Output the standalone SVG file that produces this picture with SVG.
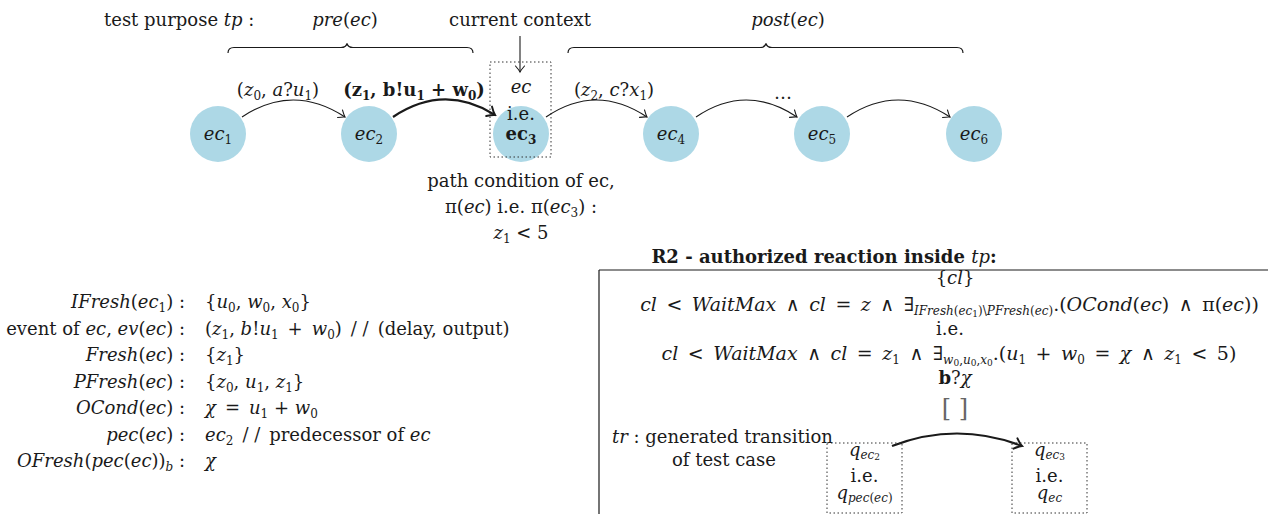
<svg xmlns="http://www.w3.org/2000/svg" width="1268" height="514" viewBox="0 0 1268 514">
<style>
text{font-family:"DejaVu Serif","Liberation Serif",serif;font-size:18px;fill:#1a1a1a}
.i{font-style:italic}
.b{font-weight:bold}
.n{font-weight:normal}
.sb{font-size:12px}
.ss{font-size:9px}
.mid{text-anchor:middle}
.end{text-anchor:end}
.big{font-size:19px}
.node{fill:#ADD8E6}
.edge{fill:none;stroke:#1a1a1a;stroke-width:1.1}
.thick{stroke-width:2.2}
.dot{fill:none;stroke:#333;stroke-width:1;stroke-dasharray:1.5 2.5}
.line{fill:none;stroke:#1a1a1a;stroke-width:1.2}
</style>
<defs>
<marker id="ah" viewBox="-8 -6 10 12" markerWidth="10" markerHeight="12" refX="0" refY="0" orient="auto" markerUnits="userSpaceOnUse">
<path d="M-6,-4.5 Q-2,-1 0,0 Q-2,1 -6,4.5" fill="none" stroke="#1a1a1a" stroke-width="1.1" stroke-linecap="round"/>
</marker>
<marker id="ahb" viewBox="-10 -7 12 14" markerWidth="12" markerHeight="14" refX="0" refY="0" orient="auto" markerUnits="userSpaceOnUse">
<path d="M-7,-5.5 Q-2.5,-1.2 0,0 Q-2.5,1.2 -7,5.5" fill="none" stroke="#1a1a1a" stroke-width="2" stroke-linecap="round"/>
</marker>
</defs>

<g id="header">
<text x="104" y="26">test purpose <tspan class="i">tp</tspan> :</text>
<text x="345" y="26" class="mid"><tspan class="i">pre</tspan>(<tspan class="i">ec</tspan>)</text>
<text x="520" y="26" class="mid">current context</text>
<text x="788" y="26" class="mid"><tspan class="i">post</tspan>(<tspan class="i">ec</tspan>)</text>
<path class="line" d="M228,53 Q228,47.5 234,47.5 H341 Q346,47.5 347,43.5 Q348,47.5 353,47.5 H467 Q473,47.5 473,53" stroke-width="1"/>
<path class="line" d="M568,53 Q568,47.5 574,47.5 H760 Q765,47.5 766,43.5 Q767,47.5 772,47.5 H957 Q963,47.5 963,53" stroke-width="1"/>
</g>

<g id="ec1"><circle class="node" cx="218" cy="134" r="28"/><text x="218" y="140" class="mid"><tspan class="i">ec</tspan><tspan class="sb" dy="4">1</tspan></text></g>
<g id="ec2"><circle class="node" cx="369" cy="134" r="28"/><text x="369" y="140" class="mid"><tspan class="i">ec</tspan><tspan class="sb" dy="4">2</tspan></text></g>
<g id="ec3">
<circle class="node" cx="521" cy="134" r="28"/>
<rect class="dot" x="490" y="62" width="61" height="95"/>
<text x="521" y="93" class="mid i">ec</text>
<text x="521" y="120" class="mid">i.e.</text>
<text x="521" y="140" class="mid b">ec<tspan class="sb" dy="4">3</tspan></text>
</g>
<g id="ec4"><circle class="node" cx="671" cy="134" r="28"/><text x="671" y="140" class="mid"><tspan class="i">ec</tspan><tspan class="sb" dy="4">4</tspan></text></g>
<g id="ec5"><circle class="node" cx="822" cy="134" r="28"/><text x="822" y="140" class="mid"><tspan class="i">ec</tspan><tspan class="sb" dy="4">5</tspan></text></g>
<g id="ec6"><circle class="node" cx="974" cy="134" r="28"/><text x="974" y="140" class="mid"><tspan class="i">ec</tspan><tspan class="sb" dy="4">6</tspan></text></g>

<g id="connectors">
<path class="edge" d="M520,36 V72" marker-end="url(#ah)"/>
<path class="edge" d="M242,117 Q293,83 345,117" marker-end="url(#ah)"/>
<path class="edge thick" d="M393,117 Q444,83 495,115" marker-end="url(#ahb)"/>
<path class="edge" d="M546,117 Q596,83 647,117" marker-end="url(#ah)"/>
<path class="edge" d="M696,117 Q746,83 797,117" marker-end="url(#ah)"/>
<path class="edge" d="M847,117 Q898,83 950,117" marker-end="url(#ah)"/>
<path class="edge thick" d="M892,446 Q957,421 1022,446" marker-end="url(#ahb)"/>
</g>

<g id="edge-labels">
<text x="278" y="96" class="mid">(<tspan class="i">z</tspan><tspan class="sb" dy="4">0</tspan><tspan dy="-4">, </tspan><tspan class="i">a</tspan>?<tspan class="i">u</tspan><tspan class="sb" dy="4">1</tspan><tspan dy="-4">)</tspan></text>
<text x="414" y="96" class="mid b">(z<tspan class="sb" dy="4">1</tspan><tspan dy="-4">, b!u</tspan><tspan class="sb" dy="4">1</tspan><tspan dy="-4"> + w</tspan><tspan class="sb" dy="4">0</tspan><tspan dy="-4">)</tspan></text>
<text x="614" y="96" class="mid">(<tspan class="i">z</tspan><tspan class="sb" dy="4">2</tspan><tspan dy="-4">, </tspan><tspan class="i">c</tspan>?<tspan class="i">x</tspan><tspan class="sb" dy="4">1</tspan><tspan dy="-4">)</tspan></text>
<text x="783" y="99" class="mid">…</text>
</g>

<g id="path-condition">
<text x="521" y="187" class="mid">path condition of ec,</text>
<text x="521" y="213" class="mid">π(<tspan class="i">ec</tspan>) i.e. π(<tspan class="i">ec</tspan><tspan class="sb" dy="4">3</tspan><tspan dy="-4">) :</tspan></text>
<text x="521" y="239" class="mid"><tspan class="i">z</tspan><tspan class="sb" dy="4">1</tspan><tspan dy="-4"> &lt; 5</tspan></text>
</g>

<g id="table">
<text x="185" y="308" class="end"><tspan class="i">IFresh</tspan>(<tspan class="i">ec</tspan><tspan class="sb" dy="4">1</tspan><tspan dy="-4">) :</tspan></text>
<text x="205" y="308">{<tspan class="i">u</tspan><tspan class="sb" dy="4">0</tspan><tspan dy="-4">, </tspan><tspan class="i">w</tspan><tspan class="sb" dy="4">0</tspan><tspan dy="-4">, </tspan><tspan class="i">x</tspan><tspan class="sb" dy="4">0</tspan><tspan dy="-4">}</tspan></text>

<text x="185" y="334.5" class="end">event of <tspan class="i">ec</tspan>, <tspan class="i">ev</tspan>(<tspan class="i">ec</tspan>) :</text>
<text x="205" y="334.5">(<tspan class="i">z</tspan><tspan class="sb" dy="4">1</tspan><tspan dy="-4">, </tspan><tspan class="i">b</tspan>!<tspan class="i">u</tspan><tspan class="sb" dy="4">1</tspan><tspan dy="-4">&#8194;+&#8194;</tspan><tspan class="i">w</tspan><tspan class="sb" dy="4">0</tspan><tspan dy="-4">)&#8194;/ /&#8194;(delay, output)</tspan></text>

<text x="185" y="361" class="end"><tspan class="i">Fresh</tspan>(<tspan class="i">ec</tspan>) :</text>
<text x="205" y="361">{<tspan class="i">z</tspan><tspan class="sb" dy="4">1</tspan><tspan dy="-4">}</tspan></text>

<text x="185" y="387.5" class="end"><tspan class="i">PFresh</tspan>(<tspan class="i">ec</tspan>) :</text>
<text x="205" y="387.5">{<tspan class="i">z</tspan><tspan class="sb" dy="4">0</tspan><tspan dy="-4">, </tspan><tspan class="i">u</tspan><tspan class="sb" dy="4">1</tspan><tspan dy="-4">, </tspan><tspan class="i">z</tspan><tspan class="sb" dy="4">1</tspan><tspan dy="-4">}</tspan></text>

<text x="185" y="414" class="end"><tspan class="i">OCond</tspan>(<tspan class="i">ec</tspan>) :</text>
<text x="205" y="414"><tspan class="i">χ</tspan>&#8194;=&#8194;<tspan class="i">u</tspan><tspan class="sb" dy="4">1</tspan><tspan dy="-4"> + </tspan><tspan class="i">w</tspan><tspan class="sb" dy="4">0</tspan></text>

<text x="185" y="440.5" class="end"><tspan class="i">pec</tspan>(<tspan class="i">ec</tspan>) :</text>
<text x="205" y="440.5"><tspan class="i">ec</tspan><tspan class="sb" dy="4">2</tspan><tspan dy="-4">&#8194;/ /&#8194;predecessor of </tspan><tspan class="i">ec</tspan></text>

<text x="185" y="467" class="end"><tspan class="i">OFresh</tspan>(<tspan class="i">pec</tspan>(<tspan class="i">ec</tspan>))<tspan class="sb i" dy="4">b</tspan><tspan dy="-4"> :</tspan></text>
<text x="205" y="467" class="i">χ</text>
</g>

<g id="r2-box">
<path class="line" d="M599,270 H1268 M599,270 V514"/>
<text x="824" y="263" class="mid b">R2 - authorized reaction inside <tspan class="i n">tp</tspan>:</text>
<text x="955" y="284" class="mid">{<tspan class="i">cl</tspan>}</text>
<text x="949.5" y="311" class="mid big"><tspan class="i">cl</tspan>&#8194;&lt;&#8194;<tspan class="i">WaitMax</tspan>&#8194;∧&#8194;<tspan class="i">cl</tspan>&#8194;=&#8194;<tspan class="i">z</tspan>&#8194;∧&#8194;∃<tspan class="sb i" dy="4">IFresh</tspan><tspan class="sb">(</tspan><tspan class="sb i">ec</tspan><tspan class="ss" dy="2">1</tspan><tspan class="sb" dy="-2">)\</tspan><tspan class="sb i">PFresh</tspan><tspan class="sb">(</tspan><tspan class="sb i">ec</tspan><tspan class="sb">)</tspan><tspan dy="-4">.(</tspan><tspan class="i">OCond</tspan>(<tspan class="i">ec</tspan>)&#8194;∧&#8194;π(<tspan class="i">ec</tspan>))</text>
<text x="950" y="335" class="mid">i.e.</text>
<text x="949" y="360" class="mid big"><tspan class="i">cl</tspan>&#8194;&lt;&#8194;<tspan class="i">WaitMax</tspan>&#8194;∧&#8194;<tspan class="i">cl</tspan>&#8194;=&#8194;<tspan class="i">z</tspan><tspan class="sb" dy="4">1</tspan><tspan dy="-4">&#8194;∧&#8194;∃</tspan><tspan class="sb i" dy="4">w</tspan><tspan class="ss" dy="2">0</tspan><tspan class="sb" dy="-2">,</tspan><tspan class="sb i">u</tspan><tspan class="ss" dy="2">0</tspan><tspan class="sb" dy="-2">,</tspan><tspan class="sb i">x</tspan><tspan class="ss" dy="2">0</tspan><tspan dy="-6">.(</tspan><tspan class="i">u</tspan><tspan class="sb" dy="4">1</tspan><tspan dy="-4">&#8194;+&#8194;</tspan><tspan class="i">w</tspan><tspan class="sb" dy="4">0</tspan><tspan dy="-4">&#8194;=&#8194;</tspan><tspan class="i">χ</tspan>&#8194;∧&#8194;<tspan class="i">z</tspan><tspan class="sb" dy="4">1</tspan><tspan dy="-4">&#8194;&lt;&#8194;5)</tspan></text>
<text x="955" y="384" class="mid"><tspan class="b">b</tspan>?<tspan class="i">χ</tspan></text>
<text x="955" y="416" class="mid" style="font-size:24px;fill:#666">[ ]</text>
<text x="612" y="443"><tspan class="i">tr</tspan> : generated transition</text>
<text x="724" y="466" class="mid">of test case</text>
</g>

<g id="q-ec2">
<rect class="dot" x="827" y="443" width="75" height="70"/>
<text x="864.5" y="456" class="mid"><tspan class="i">q</tspan><tspan class="sb i" dy="3">ec</tspan><tspan class="ss" dy="1">2</tspan></text>
<text x="864.5" y="482" class="mid">i.e.</text>
<text x="864.5" y="499" class="mid"><tspan class="i">q</tspan><tspan class="sb i" dy="3">pec</tspan><tspan class="sb">(</tspan><tspan class="sb i">ec</tspan><tspan class="sb">)</tspan></text>
</g>
<g id="q-ec3">
<rect class="dot" x="1012" y="443" width="75" height="70"/>
<text x="1049.5" y="456" class="mid"><tspan class="i">q</tspan><tspan class="sb i" dy="3">ec</tspan><tspan class="ss" dy="1">3</tspan></text>
<text x="1049.5" y="482" class="mid">i.e.</text>
<text x="1049.5" y="499" class="mid"><tspan class="i">q</tspan><tspan class="sb i" dy="3">ec</tspan></text>
</g>
</svg>
